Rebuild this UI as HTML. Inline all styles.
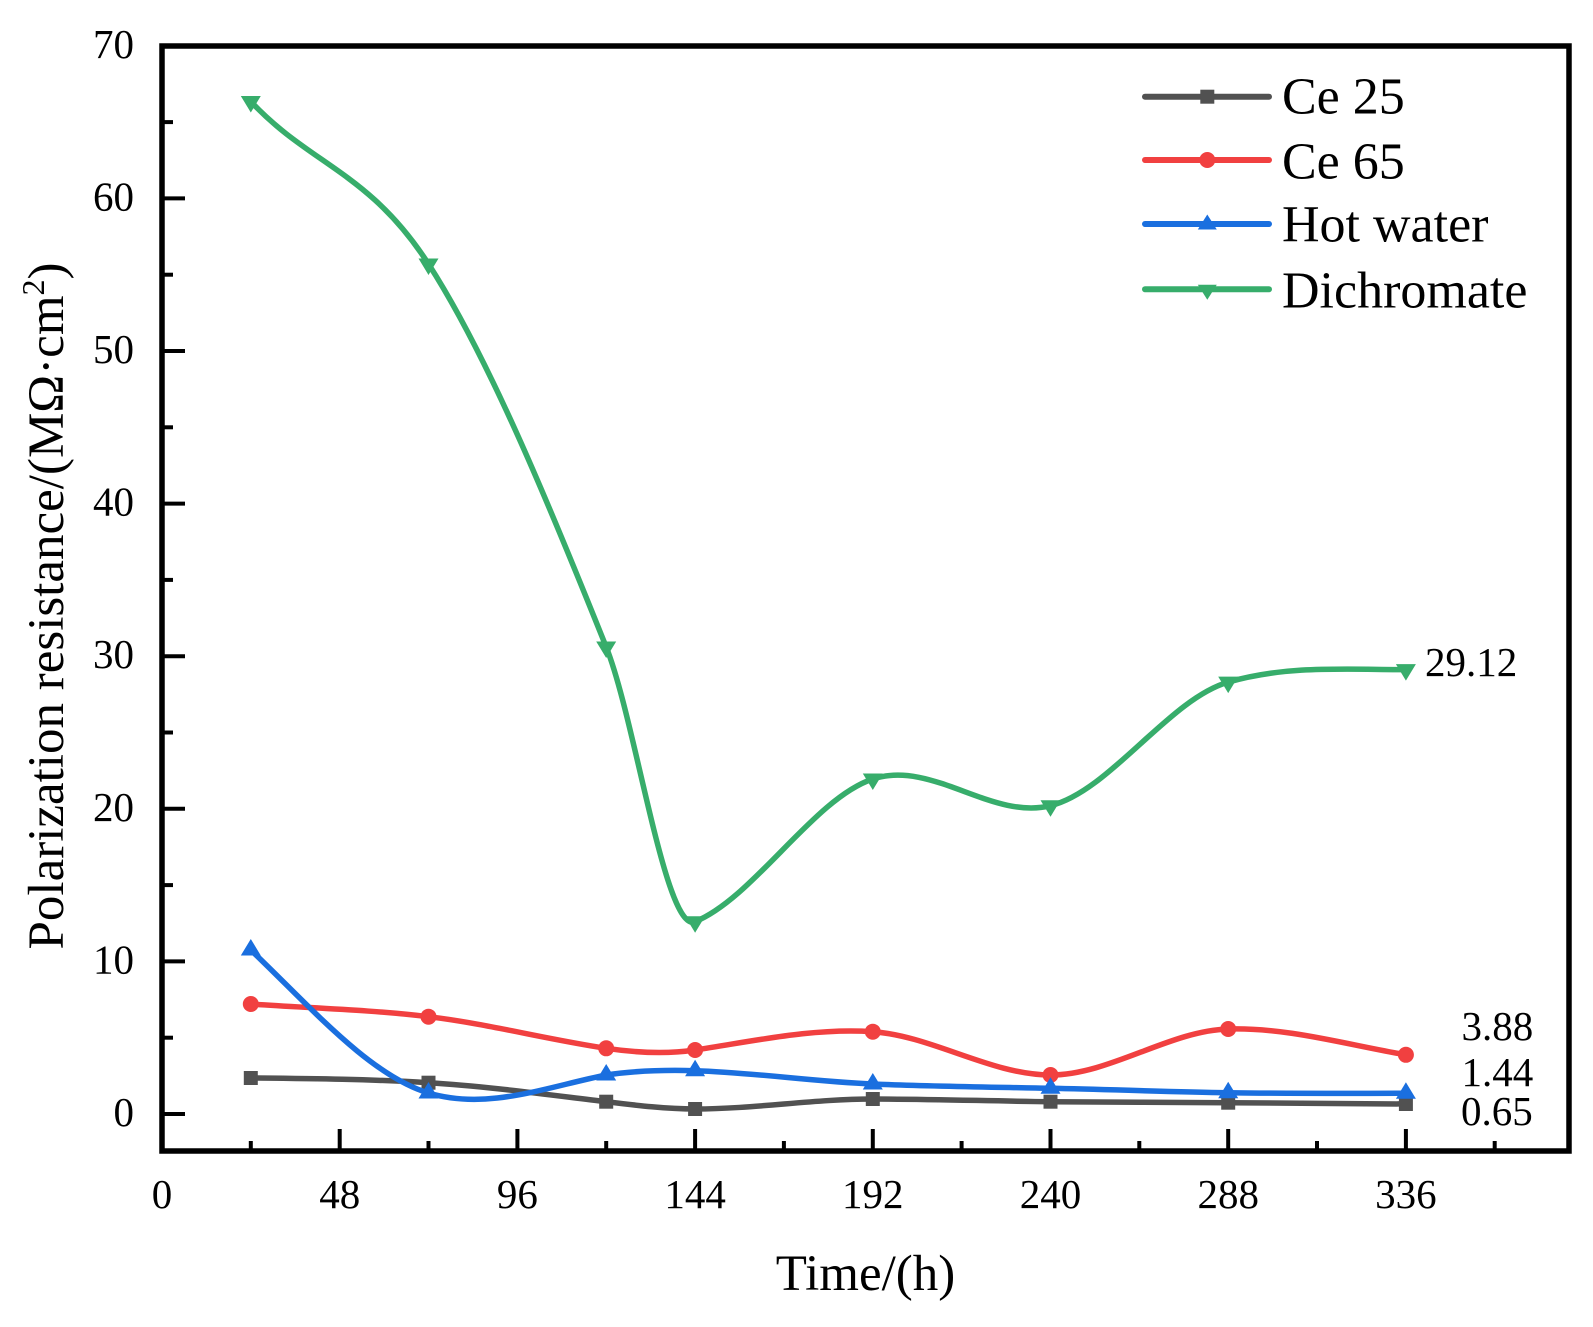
<!DOCTYPE html>
<html>
<head>
<meta charset="utf-8">
<style>
  html, body { margin: 0; padding: 0; background: #ffffff; }
  svg { display: block; }
  text { font-family: "Liberation Serif", "Times New Roman", serif; fill: #000; }
</style>
</head>
<body>
<svg width="1593" height="1327" viewBox="0 0 1593 1327" xmlns="http://www.w3.org/2000/svg">
  <rect x="0" y="0" width="1593" height="1327" fill="#ffffff"/>

  <!-- Series: Ce 25 -->
  <path d="M250.8,1078 C310.0,1078.6 369.3,1079.1 428.5,1082.7 C487.7,1086.3 546.9,1094.6 606.2,1101.7 C635.8,1105.3 665.5,1109 695.1,1109 C754.3,1109 813.6,1099 872.8,1099 C932.0,1099 991.3,1101.1 1050.5,1101.7 C1109.7,1102.3 1169.0,1102.1 1228.2,1102.7 C1287.4,1103.3 1346.7,1103.4 1405.9,1104" fill="none" stroke="#515151" stroke-width="5.5" stroke-linejoin="round"/>
  <g fill="#515151">
    <rect x="243.8" y="1071" width="14" height="14"/>
    <rect x="421.5" y="1075.7" width="14" height="14"/>
    <rect x="599.2" y="1094.7" width="14" height="14"/>
    <rect x="688.1" y="1102" width="14" height="14"/>
    <rect x="865.8" y="1092" width="14" height="14"/>
    <rect x="1043.5" y="1094.7" width="14" height="14"/>
    <rect x="1221.2" y="1095.7" width="14" height="14"/>
    <rect x="1398.9" y="1097" width="14" height="14"/>
  </g>

  <!-- Series: Ce 65 -->
  <path d="M250.8,1004 C310.0,1008.1 369.3,1009.6 428.5,1016.7 C487.7,1023.8 546.9,1039.4 606.2,1048.3 C635.8,1052.7 665.5,1054.4 695.1,1050 C754.3,1041.1 813.6,1027.6 872.8,1031.7 C932.0,1035.8 991.3,1075 1050.5,1075 C1109.7,1075 1169.0,1030.8 1228.2,1029 C1287.4,1027.2 1346.7,1044.7 1405.9,1054.8" fill="none" stroke="#F14040" stroke-width="5.5" stroke-linejoin="round"/>
  <g fill="#F14040">
    <circle cx="250.8" cy="1004" r="8"/>
    <circle cx="428.5" cy="1016.7" r="8"/>
    <circle cx="606.2" cy="1048.3" r="8"/>
    <circle cx="695.1" cy="1050" r="8"/>
    <circle cx="872.8" cy="1031.7" r="8"/>
    <circle cx="1050.5" cy="1075" r="8"/>
    <circle cx="1228.2" cy="1029" r="8"/>
    <circle cx="1405.9" cy="1054.8" r="8"/>
  </g>

  <!-- Series: Hot water -->
  <path d="M250.8,950 C310.0,1006.3 369.3,1075.2 428.5,1093 C487.7,1110.8 546.9,1086.8 606.2,1075 C635.8,1070.6 665.5,1069.8 695.1,1070.7 C754.3,1072.5 813.6,1081.6 872.8,1084 C932.0,1086.4 991.3,1087.1 1050.5,1088.3 C1109.7,1089.5 1169.0,1091.8 1228.2,1092.7 C1287.4,1093.6 1346.7,1093.3 1405.9,1093.3" fill="none" stroke="#1A6FDF" stroke-width="5.5" stroke-linejoin="round"/>
  <g fill="#1A6FDF">
    <path d="M250.8,939 l10,16.5 h-20z"/>
    <path d="M428.5,1082 l10,16.5 h-20z"/>
    <path d="M606.2,1064 l10,16.5 h-20z"/>
    <path d="M695.1,1059.7 l10,16.5 h-20z"/>
    <path d="M872.8,1073 l10,16.5 h-20z"/>
    <path d="M1050.5,1077.3 l10,16.5 h-20z"/>
    <path d="M1228.2,1081.7 l10,16.5 h-20z"/>
    <path d="M1405.9,1082.3 l10,16.5 h-20z"/>
  </g>

  <!-- Series: Dichromate -->
  <path d="M250.8,101.5 C310.0,164.8 369.3,171.9 428.5,264.0 C487.7,356.1 546.9,498.9 606.2,647.0 C635.8,721.1 665.5,933.9 695.1,921.7 C754.3,897.3 813.6,798.6 872.8,779.0 C932.0,759.5 991.3,820.4 1050.5,805.7 C1109.7,791.1 1169.0,699.2 1228.2,682.1 C1287.4,665.0 1346.7,669.6 1405.9,669.6" fill="none" stroke="#37AD6B" stroke-width="5.5" stroke-linejoin="round"/>
  <g fill="#37AD6B">
    <path d="M250.8,112.5 l10,-16.5 h-20z"/>
    <path d="M428.5,275 l10,-16.5 h-20z"/>
    <path d="M606.2,658 l10,-16.5 h-20z"/>
    <path d="M695.1,932.7 l10,-16.5 h-20z"/>
    <path d="M872.8,790 l10,-16.5 h-20z"/>
    <path d="M1050.5,816.7 l10,-16.5 h-20z"/>
    <path d="M1228.2,693.1 l10,-16.5 h-20z"/>
    <path d="M1405.9,680.6 l10,-16.5 h-20z"/>
  </g>

  <!-- Axes frame -->
  <rect x="162" y="46" width="1407" height="1105" fill="none" stroke="#000" stroke-width="5.5"/>

  <!-- Y ticks -->
  <g stroke="#000" stroke-width="4">
    <line x1="162" y1="45.8" x2="185" y2="45.8"/>
    <line x1="162" y1="198.4" x2="185" y2="198.4"/>
    <line x1="162" y1="351" x2="185" y2="351"/>
    <line x1="162" y1="503.6" x2="185" y2="503.6"/>
    <line x1="162" y1="656.2" x2="185" y2="656.2"/>
    <line x1="162" y1="808.8" x2="185" y2="808.8"/>
    <line x1="162" y1="961.4" x2="185" y2="961.4"/>
    <line x1="162" y1="1114" x2="185" y2="1114"/>
    <line x1="162" y1="122.1" x2="173" y2="122.1"/>
    <line x1="162" y1="274.7" x2="173" y2="274.7"/>
    <line x1="162" y1="427.3" x2="173" y2="427.3"/>
    <line x1="162" y1="579.9" x2="173" y2="579.9"/>
    <line x1="162" y1="732.5" x2="173" y2="732.5"/>
    <line x1="162" y1="885.1" x2="173" y2="885.1"/>
    <line x1="162" y1="1037.7" x2="173" y2="1037.7"/>
  </g>

  <!-- X ticks -->
  <g stroke="#000" stroke-width="4">
    <line x1="339.7" y1="1151" x2="339.7" y2="1129"/>
    <line x1="517.4" y1="1151" x2="517.4" y2="1129"/>
    <line x1="695.1" y1="1151" x2="695.1" y2="1129"/>
    <line x1="872.8" y1="1151" x2="872.8" y2="1129"/>
    <line x1="1050.5" y1="1151" x2="1050.5" y2="1129"/>
    <line x1="1228.2" y1="1151" x2="1228.2" y2="1129"/>
    <line x1="1405.9" y1="1151" x2="1405.9" y2="1129"/>
    <line x1="250.8" y1="1151" x2="250.8" y2="1141"/>
    <line x1="428.5" y1="1151" x2="428.5" y2="1141"/>
    <line x1="606.2" y1="1151" x2="606.2" y2="1141"/>
    <line x1="783.9" y1="1151" x2="783.9" y2="1141"/>
    <line x1="961.6" y1="1151" x2="961.6" y2="1141"/>
    <line x1="1139.3" y1="1151" x2="1139.3" y2="1141"/>
    <line x1="1317.0" y1="1151" x2="1317.0" y2="1141"/>
    <line x1="1494.7" y1="1151" x2="1494.7" y2="1141"/>
  </g>

  <!-- Y tick labels -->
  <g font-size="41" text-anchor="end">
    <text x="134" y="58">70</text>
    <text x="134" y="210.4">60</text>
    <text x="134" y="363">50</text>
    <text x="134" y="515.6">40</text>
    <text x="134" y="668.2">30</text>
    <text x="134" y="820.8">20</text>
    <text x="134" y="973.4">10</text>
    <text x="134" y="1126">0</text>
  </g>

  <!-- X tick labels -->
  <g font-size="41" text-anchor="middle">
    <text x="162" y="1208">0</text>
    <text x="339.7" y="1208">48</text>
    <text x="517.4" y="1208">96</text>
    <text x="695.1" y="1208">144</text>
    <text x="872.8" y="1208">192</text>
    <text x="1050.5" y="1208">240</text>
    <text x="1228.2" y="1208">288</text>
    <text x="1405.9" y="1208">336</text>
  </g>

  <!-- Axis titles -->
  <text x="865.5" y="1290" font-size="51" text-anchor="middle">Time/(h)</text>
  <text transform="translate(63,606) rotate(-90)" font-size="51" text-anchor="middle">Polarization resistance/(MΩ·cm<tspan dy="-19" font-size="32">2</tspan><tspan dy="19">)</tspan></text>

  <!-- Annotations -->
  <g font-size="41">
    <text x="1425" y="676">29.12</text>
    <text x="1461.5" y="1040">3.88</text>
    <text x="1461.5" y="1086">1.44</text>
    <text x="1461" y="1125">0.65</text>
  </g>

  <!-- Legend -->
  <g stroke-width="6" stroke-linecap="round">
    <line x1="1145" y1="96.7" x2="1269" y2="96.7" stroke="#515151"/>
    <line x1="1145" y1="160" x2="1269" y2="160" stroke="#F14040"/>
    <line x1="1145" y1="224" x2="1269" y2="224" stroke="#1A6FDF"/>
    <line x1="1145" y1="289.3" x2="1269" y2="289.3" stroke="#37AD6B"/>
  </g>
  <rect x="1200.3" y="89.7" width="14" height="14" fill="#515151"/>
  <circle cx="1207.3" cy="160" r="8" fill="#F14040"/>
  <path d="M1207.3,214.5 l9.5,15 h-19z" fill="#1A6FDF"/>
  <path d="M1207.3,299.8 l9.5,-15 h-19z" fill="#37AD6B"/>
  <g font-size="52">
    <text x="1282" y="113.3">Ce 25</text>
    <text x="1282" y="178.3">Ce 65</text>
    <text x="1282" y="241.7">Hot water</text>
    <text x="1282" y="307.3">Dichromate</text>
  </g>
</svg>
</body>
</html>
